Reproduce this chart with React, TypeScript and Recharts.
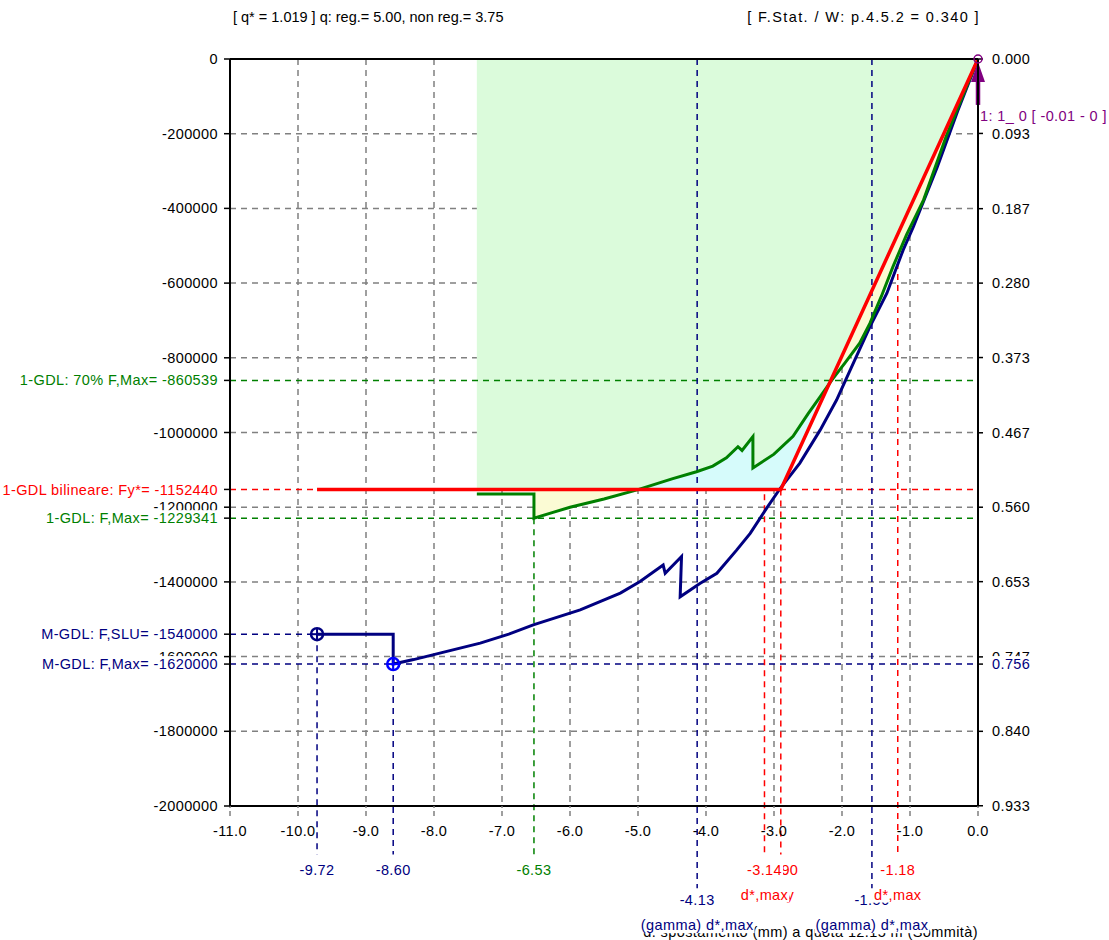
import React from 'react';
import { ComposedChart, Line, Area, XAxis, YAxis, CartesianGrid, ReferenceLine, ReferenceDot } from 'recharts';

const FONT = '"Liberation Sans", Arial, sans-serif';
const FS = 14.5;
const LS = 0.4;

const GREEN = '#008000';
const RED = '#ff0000';
const NAVY = '#000080';
const BLUE = '#0000ff';
const PURPLE = '#800080';
const GRID = '#808080';

// 1-GDL curve (green): displacement (mm) / force
const gdl1X = [-7.37, -6.53, -6.53, -6.25, -6.0, -5.5, -5.0, -4.5, -4.14, -3.9, -3.7, -3.53, -3.47, -3.31, -3.31, -3.0, -2.72, -2.5, -2.32, -2.15, -1.95, -1.74, -1.59, -1.42, -1.25, -1.05, -0.8, -0.47, -0.25, 0];
const gdl1F = [-1164700, -1164700, -1229341, -1214000, -1200000, -1178000, -1153000, -1124000, -1105000, -1090000, -1068000, -1038000, -1048000, -1011000, -1095000, -1058000, -1010000, -950000, -904000, -860000, -812000, -761000, -708000, -635000, -556000, -470000, -377000, -208000, -110000, 0];

// M-GDL curve (blue)
const mgdlX = [-9.72, -8.6, -8.6, -8.3, -7.9, -7.32, -6.9, -6.54, -5.85, -5.26, -4.97, -4.63, -4.6, -4.36, -4.38, -4.09, -3.84, -3.55, -3.35, -3.11, -2.91, -2.62, -2.32, -2.08, -1.88, -1.59, -1.34, -1.1, -0.95, -0.6, -0.3, 0];
const mgdlF = [-1540000, -1540000, -1620000, -1608000, -1590000, -1564000, -1540000, -1515000, -1475000, -1430000, -1399000, -1355000, -1377000, -1332000, -1440000, -1404000, -1377000, -1315000, -1270000, -1203000, -1150000, -1082000, -993000, -913000, -833000, -717000, -627000, -511000, -449000, -290000, -140000, 0];

// 1-GDL bilinear (red)
const bilX = [-9.72, -2.9, 0];
const bilF = [-1152440, -1152440, 0];

// axes
const xTicks = [-11, -10, -9, -8, -7, -6, -5, -4, -3, -2, -1, 0];
const yTicks = [0, -200000, -400000, -600000, -800000, -1000000, -1200000, -1400000, -1600000, -1800000, -2000000];
const rightTicks = [0, 0.093, 0.187, 0.28, 0.373, 0.467, 0.56, 0.653, 0.747, 0.84, 0.933];
const rightSpecial = 0.756;

// horizontal markers
const hmF = [-860539, -1152440, -1229341, -1540000, -1620000];
const hmText = ['1-GDL: 70% F,Max= -860539', '1-GDL bilineare: Fy*= -1152440', '1-GDL: F,Max= -1229341', 'M-GDL: F,SLU= -1540000', 'M-GDL: F,Max= -1620000'];
const hmKind = ['g', 'b', 'g', 'm', 'm'];
const hmEndX = [0, 0, 0, -9.72, 0];

// vertical markers
const vmX = [-9.72, -8.6, -6.53, -4.13, -2.9, -3.14, -1.56, -1.18];
const vmFrom = [-1540000, -1620000, -1229341, 0, -1152440, -1165000, 0, -546000];
const vmText = ['-9.72', '-8.60', '-6.53', '-4.13', '-2.90', '-3.14', '-1.56', '-1.18'];
const vmSub = ['', '', '', '(gamma) d*,max', 'd*,y', 'd*,max', '(gamma) d*,max', 'd*,max'];
const vmKind = ['m', 'm', 'g', 'm', 'b', 'b', 'm', 'b'];

const KIND_COLOR: Record<string, string> = { g: GREEN, b: RED, m: NAVY };

const pts = (xs: number[], ys: number[]) => xs.map((x, i) => ({ x, y: ys[i] }));
const at = (xs: number[], ys: number[], x: number) => {
  for (let i = 0; i < xs.length - 1; i++) {
    if (x >= xs[i] && x <= xs[i + 1] && xs[i + 1] !== xs[i]) {
      return ys[i] + ((ys[i + 1] - ys[i]) * (x - xs[i])) / (xs[i + 1] - xs[i]);
    }
  }
  return ys[ys.length - 1];
};

// fill table: green curve and bilinear on shared x
const fillRows = [
  ...gdl1X.map((x, i) => ({ x, g: gdl1F[i], r: at(bilX, bilF, x) })),
  ...bilX.filter((x) => x > gdl1X[0] && x < 0).map((x) => ({ x, g: at(gdl1X, gdl1F, x), r: at(bilX, bilF, x) })),
].sort((a, b) => a.x - b.x);
const betweenRows = fillRows.filter((r) => r.x >= gdl1X[1]);

let ctx: CanvasRenderingContext2D | null = null;
const textWidth = (s: string) => {
  if (!ctx && typeof document !== 'undefined') ctx = document.createElement('canvas').getContext('2d');
  if (!ctx) return s.length * FS * 0.55;
  ctx.font = `${FS}px "Liberation Sans"`;
  return ctx.measureText(s).width + s.length * LS;
};

function BoxText({ x, y, text, color, anchor }: any) {
  const w = textWidth(text);
  const left = anchor === 'end' ? x - w : anchor === 'middle' ? x - w / 2 : x;
  return (
    <g>
      <rect x={left - 1} y={y - 8} width={w + 2} height={16} fill="#fff" />
      <text x={x} y={y} dy="0.35em" textAnchor={anchor} fill={color} fontSize={FS} fontFamily={FONT} letterSpacing={LS}>
        {text}
      </text>
    </g>
  );
}

const LeftTick = (props: any) => {
  const { x, y, payload } = props;
  const i = hmF.indexOf(payload.value);
  if (i < 0) {
    return (
      <text x={x} y={y} dy="0.35em" textAnchor="end" fill="#000" fontSize={FS} fontFamily={FONT} letterSpacing={LS}>
        {payload.value}
      </text>
    );
  }
  return <BoxText x={x} y={y} text={hmText[i]} color={KIND_COLOR[hmKind[i]]} anchor="end" />;
};

const RightTick = (props: any) => {
  const { x, y, payload } = props;
  if (payload.value === rightSpecial) {
    return <BoxText x={x} y={y} text={payload.value.toFixed(3)} color={NAVY} anchor="start" />;
  }
  return (
    <text x={x} y={y} dy="0.35em" textAnchor="start" fill="#000" fontSize={FS} fontFamily={FONT} letterSpacing={LS}>
      {payload.value.toFixed(3)}
    </text>
  );
};

const vLabel = (i: number) => (props: any) => {
  const vb = props.viewBox || {};
  const cx = (vb.x ?? vb.x1) + (vb.width || 0) / 2;
  const bottom = (vb.y ?? vb.y1) + (vb.height || 0);
  const long = vmFrom[i] === 0;
  const y1 = bottom + (long ? 12 : 15);
  const color = KIND_COLOR[vmKind[i]];
  return (
    <g>
      <BoxText x={cx} y={y1} text={vmText[i]} color={color} anchor="middle" />
      {vmSub[i] ? <BoxText x={cx} y={y1 + 25} text={vmSub[i]} color={color} anchor="middle" /> : null}
    </g>
  );
};

const ring = (color: string) => (p: any) => {
  const { cx, cy } = p;
  return (
    <g>
      <circle cx={cx} cy={cy} r={6} fill="none" stroke={color} strokeWidth={2.5} />
      <line x1={cx - 6} y1={cy} x2={cx + 6} y2={cy} stroke={color} strokeWidth={2} />
      <line x1={cx} y1={cy - 6} x2={cx} y2={cy + 6} stroke={color} strokeWidth={2} />
    </g>
  );
};

const ArrowShape = (p: any) => {
  const { x1, y1, y2 } = p;
  const yb = Math.max(y1, y2);
  const yt = Math.min(y1, y2);
  return (
    <g>
      <line x1={x1} y1={yb} x2={x1} y2={yt + 12} stroke={PURPLE} strokeWidth={4.5} />
      <polygon points={`${x1},${yt} ${x1 - 7},${yt + 20} ${x1 + 7},${yt + 20}`} fill={PURPLE} />
      <text x={x1 + 2} y={yb + 11} dy="0.35em" fill={PURPLE} fontSize={FS} fontFamily={FONT} letterSpacing={LS}>
        1: 1_ 0  [ -0.01 - 0 ]
      </text>
    </g>
  );
};

const txt: React.CSSProperties = { position: 'absolute', fontSize: FS, fontFamily: FONT, whiteSpace: 'pre', color: '#000' };

export default function App() {
  return (
    <div style={{ position: 'absolute', left: 0, top: 0, width: 1109, height: 940, background: '#fff', fontFamily: FONT }}>
      <div style={{ ...txt, left: 233, top: 9, letterSpacing: 0 }}>[ q* = 1.019 ] q: reg.= 5.00, non reg.= 3.75</div>
      <div style={{ ...txt, right: 129, top: 9, letterSpacing: 1.4 }}>[ F.Stat. / W: p.4.5.2 = 0.340 ]</div>
      <div style={{ ...txt, right: 131, top: 924, letterSpacing: LS }}>d. spostamento (mm) a quota 12.15 m (Sommità)</div>
      <div style={{ position: 'absolute', left: 0, top: 0 }}>
        <ComposedChart width={1109} height={940} margin={{ top: 49, right: 11, bottom: 94, left: 10 }}>
          <XAxis
            dataKey="x"
            type="number"
            domain={[-11, 0]}
            ticks={xTicks}
            interval={0}
            allowDataOverflow
            height={40}
            tickSize={10}
            tickMargin={10}
            tickFormatter={(v: number) => v.toFixed(1)}
            tick={{ fill: '#000', fontSize: FS, fontFamily: FONT, letterSpacing: LS }}
            tickLine={{ stroke: GRID, strokeDasharray: '5 3', strokeWidth: 1.5 }}
            axisLine={{ stroke: '#000', strokeWidth: 2 }}
          />
          <XAxis
            xAxisId="top"
            orientation="top"
            type="number"
            domain={[-11, 0]}
            ticks={xTicks}
            interval={0}
            allowDataOverflow
            height={10}
            tickSize={5}
            tick={false}
            tickLine={{ stroke: GRID, strokeWidth: 1.5 }}
            axisLine={{ stroke: '#000', strokeWidth: 2 }}
          />
          <YAxis
            type="number"
            domain={[-2000000, 0]}
            ticks={[...yTicks, ...hmF]}
            interval={0}
            allowDataOverflow
            width={220}
            tickSize={6}
            tickMargin={6}
            tick={<LeftTick />}
            tickLine={{ stroke: '#000', strokeWidth: 1.5 }}
            axisLine={{ stroke: '#000', strokeWidth: 2 }}
          />
          <YAxis
            yAxisId="right"
            orientation="right"
            type="number"
            domain={[0, 0.9333]}
            reversed
            allowDataOverflow
            ticks={[...rightTicks, rightSpecial]}
            interval={0}
            width={120}
            tickSize={5}
            tickMargin={9}
            tick={<RightTick />}
            tickLine={{ stroke: '#000', strokeWidth: 1.5 }}
            axisLine={{ stroke: '#000', strokeWidth: 2 }}
          />

          <Area data={fillRows} dataKey={(r: any) => [Math.max(r.g, r.r), 0]} type="linear" stroke="none" fill="#dbfbdb" fillOpacity={1} isAnimationActive={false} />
          <Area data={betweenRows} dataKey={(r: any) => [r.r, Math.max(r.g, r.r)]} type="linear" stroke="none" fill="#d6fbfb" fillOpacity={1} isAnimationActive={false} />
          <Area data={betweenRows} dataKey={(r: any) => [Math.min(r.g, r.r), r.r]} type="linear" stroke="none" fill="#fbfbd4" fillOpacity={1} isAnimationActive={false} />

          <CartesianGrid horizontalValues={yTicks} verticalValues={xTicks} stroke={GRID} strokeDasharray="6 5" strokeWidth={1.5} />

          {hmF.map((f, i) =>
            hmEndX[i] === 0 ? (
              <ReferenceLine key={'h' + i} y={f} stroke={KIND_COLOR[hmKind[i]]} strokeDasharray="6 5" strokeWidth={1.5} />
            ) : (
              <ReferenceLine
                key={'h' + i}
                segment={[{ x: -11, y: f }, { x: hmEndX[i], y: f }]}
                stroke={KIND_COLOR[hmKind[i]]}
                strokeDasharray="6 5"
                strokeWidth={1.5}
              />
            )
          )}

          {vmX.map((x, i) => (
            <ReferenceLine
              key={'v' + i}
              segment={[{ x, y: vmFrom[i] }, { x, y: vmFrom[i] === 0 ? -2220000 : -2130000 }]}
              ifOverflow="visible"
              stroke={KIND_COLOR[vmKind[i]]}
              strokeDasharray="6 5"
              strokeWidth={1.5}
              label={vLabel(i)}
            />
          ))}

          <Line data={pts(mgdlX, mgdlF)} dataKey="y" type="linear" stroke={NAVY} strokeWidth={3} dot={false} isAnimationActive={false} />
          <Line data={pts(gdl1X, gdl1F)} dataKey="y" type="linear" stroke={GREEN} strokeWidth={3} dot={false} isAnimationActive={false} />
          <Line data={pts(bilX, bilF)} dataKey="y" type="linear" stroke={RED} strokeWidth={3.5} dot={false} isAnimationActive={false} />

          <ReferenceDot x={mgdlX[0]} y={mgdlF[0]} r={6} shape={ring(NAVY)} ifOverflow="visible" />
          <ReferenceDot x={mgdlX[2]} y={mgdlF[2]} r={6} shape={ring(BLUE)} ifOverflow="visible" />
          <ReferenceDot x={0} y={0} r={4} fill="none" stroke={PURPLE} strokeWidth={1.5} ifOverflow="visible" />
          <ReferenceLine segment={[{ x: 0, y: -123000 }, { x: 0, y: -8000 }]} ifOverflow="visible" shape={ArrowShape} />
        </ComposedChart>
      </div>
    </div>
  );
}
